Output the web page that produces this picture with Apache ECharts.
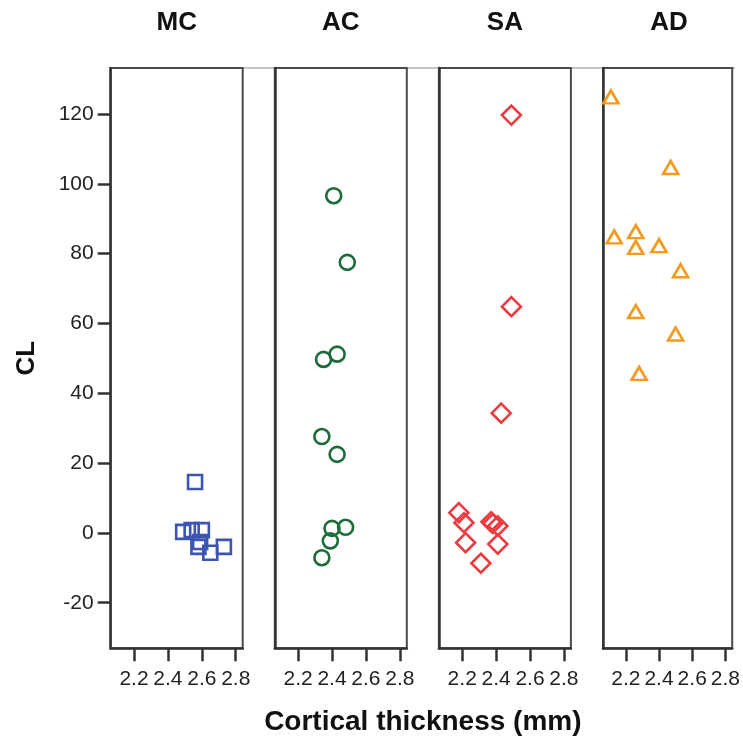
<!DOCTYPE html>
<html>
<head>
<meta charset="utf-8">
<script src="https://cdn.jsdelivr.net/npm/echarts@6/dist/echarts.min.js"></script>
<style>
  html, body { margin: 0; padding: 0; background: #fff; }
  #main { width: 743px; height: 742px; }
</style>
</head>
<body>
<div id="main"></div>
<script>
// panels
var groups = ['MC', 'AC', 'SA', 'AD'];
var colors = ['#3b55b0', '#1d6b3a', '#ec3b40', '#f39a1f'];
var symbols = ['rect', 'circle', 'diamond', 'triangle'];

// cortical thickness (mm) / CL per group
var mcX = [2.56, 2.49, 2.54, 2.60, 2.59, 2.58, 2.65, 2.73];
var mcY = [14.6, 0.3, 0.8, 0.8, -2.6, -4.0, -5.7, -4.0];
var acX = [2.41, 2.49, 2.35, 2.43, 2.34, 2.43, 2.40, 2.48, 2.39, 2.34];
var acY = [96.6, 77.5, 49.7, 51.2, 27.6, 22.5, 1.3, 1.6, -2.3, -7.1];
var saX = [2.49, 2.49, 2.43, 2.18, 2.21, 2.37, 2.38, 2.41, 2.22, 2.41, 2.31];
var saY = [119.7, 64.8, 34.3, 5.8, 2.9, 3.2, 2.7, 2.0, -2.8, -3.2, -8.7];
var adX = [2.11, 2.47, 2.13, 2.26, 2.26, 2.40, 2.53, 2.26, 2.50, 2.28];
var adY = [124.9, 104.7, 84.8, 86.3, 81.8, 82.3, 75.1, 63.4, 57.0, 45.7];

// tick labels
var xTicks = [2.2, 2.4, 2.6, 2.8];
var yTicks = [-20, 0, 20, 40, 60, 80, 100, 120];

var xs = [mcX, acX, saX, adX];
var ys = [mcY, acY, saY, adY];

var FONT = '"Liberation Sans", Arial, sans-serif';
var gridTop = 68, gridH = 580.3, gridW = 132;
var lefts = [110.7, 274.8, 438.9, 603];

var chart = echarts.init(document.getElementById('main'), null, { renderer: 'canvas' });

var grids = [], xAxes = [], yAxes = [], series = [], graphics = [];

// light line joining the panel tops
graphics.push({
  type: 'line', z: -1,
  shape: { x1: lefts[0], y1: gridTop, x2: lefts[3] + gridW, y2: gridTop },
  style: { stroke: '#c4c4c4', lineWidth: 2 }
});

groups.forEach(function (g, i) {
  grids.push({
    left: lefts[i], top: gridTop, width: gridW, height: gridH,
    show: true, borderColor: '#4a4a4a', borderWidth: 2
  });
  xAxes.push({
    gridIndex: i, type: 'value', min: 2.0625, max: 2.841,
    axisLine: { show: true, onZero: false, lineStyle: { color: '#333', width: 2.5 } },
    axisTick: { show: true, length: 13, customValues: xTicks, lineStyle: { color: '#333', width: 2.5 } },
    axisLabel: {
      customValues: xTicks, fontSize: 21, color: '#222', margin: 20, fontFamily: FONT,
      formatter: function (v) { return v.toFixed(1); }
    },
    splitLine: { show: false }
  });
  yAxes.push({
    gridIndex: i, type: 'value', min: -33.06, max: 133.18,
    axisLine: { show: true, onZero: false, lineStyle: { color: '#333', width: 2.5 } },
    axisTick: { show: i === 0, length: 13, customValues: yTicks, lineStyle: { color: '#333', width: 2.5 } },
    axisLabel: { show: i === 0, customValues: yTicks, fontSize: 21, color: '#222', margin: 17, fontFamily: FONT },
    splitLine: { show: false }
  });
  var data = xs[i].map(function (x, j) { return [x, ys[i][j]]; });
  series.push({
    type: 'scatter', name: g, xAxisIndex: i, yAxisIndex: i,
    symbol: symbols[i],
    symbolSize: [14, 15, 19, [15, 13]][i],
    itemStyle: { color: 'rgba(0,0,0,0)', borderColor: colors[i], borderWidth: 2.6, opacity: 1 },
    emphasis: { disabled: true },
    data: data
  });
  graphics.push({
    type: 'text', x: lefts[i] + gridW / 2, y: 23,
    style: {
      text: g, font: 'bold 26px ' + FONT, fill: '#111',
      textAlign: 'center', textVerticalAlign: 'middle', align: 'center', verticalAlign: 'middle'
    }
  });
});

graphics.push({
  type: 'text', x: 27, y: gridTop + gridH / 2, rotation: Math.PI / 2,
  style: {
    text: 'CL', font: 'bold 26px ' + FONT, fill: '#111',
    textAlign: 'center', textVerticalAlign: 'middle', align: 'center', verticalAlign: 'middle'
  }
});
graphics.push({
  type: 'text', x: (lefts[0] + lefts[3] + gridW) / 2, y: 722,
  style: {
    text: 'Cortical thickness (mm)', font: 'bold 28px ' + FONT, fill: '#111',
    textAlign: 'center', textVerticalAlign: 'middle', align: 'center', verticalAlign: 'middle'
  }
});

chart.setOption({
  animation: false,
  backgroundColor: '#fff',
  grid: grids,
  xAxis: xAxes,
  yAxis: yAxes,
  series: series,
  graphic: graphics
});
</script>
</body>
</html>
